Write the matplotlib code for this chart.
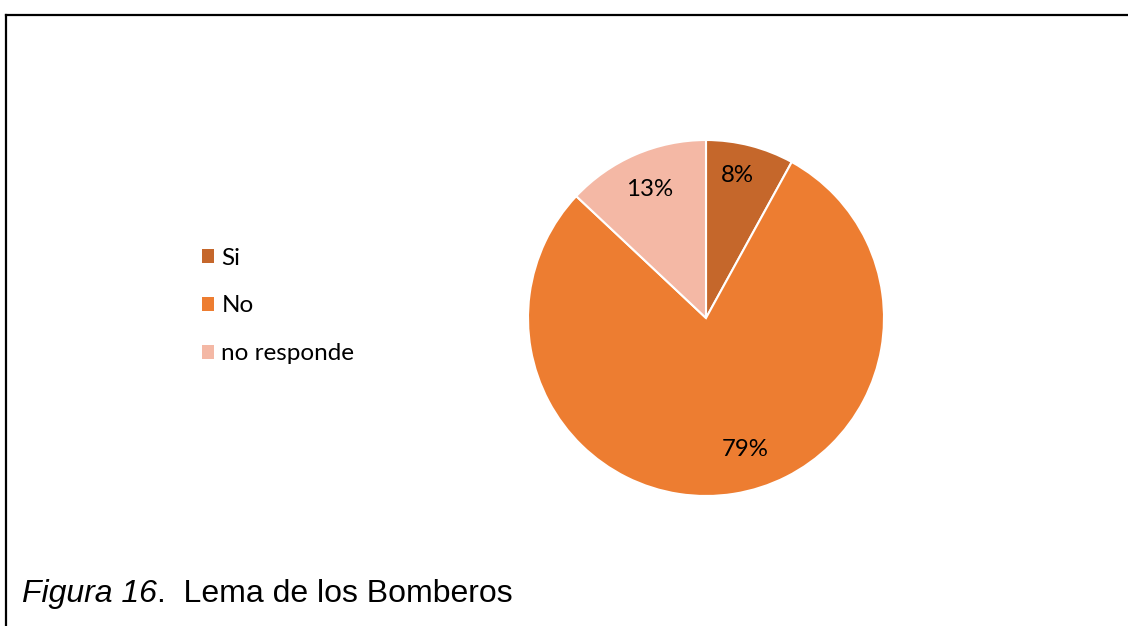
import numpy as np
import matplotlib
matplotlib.use("Agg")
import matplotlib.pyplot as plt
from matplotlib.lines import Line2D
from matplotlib.patches import Patch

# Respuestas a la pregunta sobre el lema de los bomberos
categories = ["Si", "No", "no responde"]
shares = [8, 79, 13]
colors = ["#C5672B", "#ED7D31", "#F4B8A5"]

W, H = 1128, 626
fig = plt.figure(figsize=(W / 100, H / 100), dpi=100)
fig.patch.set_facecolor("white")

# pie axes: centre (706, 318) px, radius 178 px
cx, cy, r = 706, 318, 178
ax = fig.add_axes([(cx - r) / W, (H - cy - r) / H, 2 * r / W, 2 * r / H])
wedges, _ = ax.pie(shares, colors=colors, startangle=90, counterclock=False,
                   radius=1, wedgeprops=dict(edgecolor="white", linewidth=1.5))
ax.set_xlim(-1, 1)
ax.set_ylim(-1, 1)
ax.set_aspect("equal")
ax.axis("off")

# percentage labels: distance from centre and angle shift from the wedge's mid angle
label_dist = [0.83, 0.76, 0.80]
label_shift = [2, 8, 0]
for w, val, d, s in zip(wedges, shares, label_dist, label_shift):
    mid = np.deg2rad((w.theta1 + w.theta2) / 2 + s)
    ax.text(d * np.cos(mid), d * np.sin(mid) - 0.01, f"{val}%", ha="center", va="center",
            fontsize=17.3, family="Lato", color="black")

handles = [Patch(facecolor=c, edgecolor="none") for c in colors]
fig.legend(handles, categories, loc="center left",
           bbox_to_anchor=(202 / W, 1 - 306 / H), frameon=False, borderpad=0,
           borderaxespad=0, handlelength=0.5, handleheight=0.5, handletextpad=0.3,
           labelspacing=1.1, prop=dict(family="Lato", size=17.5))

# frame lines (left and top only)
lw = 1.6
fig.add_artist(Line2D([6 / W, 6 / W], [0, 1 - 15 / H], color="black", lw=lw,
                      transform=fig.transFigure, solid_capstyle="projecting"))
fig.add_artist(Line2D([6 / W, 1], [1 - 15 / H, 1 - 15 / H], color="black", lw=lw,
                      transform=fig.transFigure, solid_capstyle="projecting"))

# caption
base_y = 1 - 602 / H
t1 = fig.text(22 / W, base_y, "Figura 16", family="Liberation Sans", style="italic",
              fontsize=23, va="baseline", ha="left")
fig.canvas.draw()
bb = t1.get_window_extent()
fig.text(bb.x1 / W, base_y, ".  Lema de los Bomberos", family="Liberation Sans",
         fontsize=23, va="baseline", ha="left")

fig.savefig("out.png", dpi=100)
